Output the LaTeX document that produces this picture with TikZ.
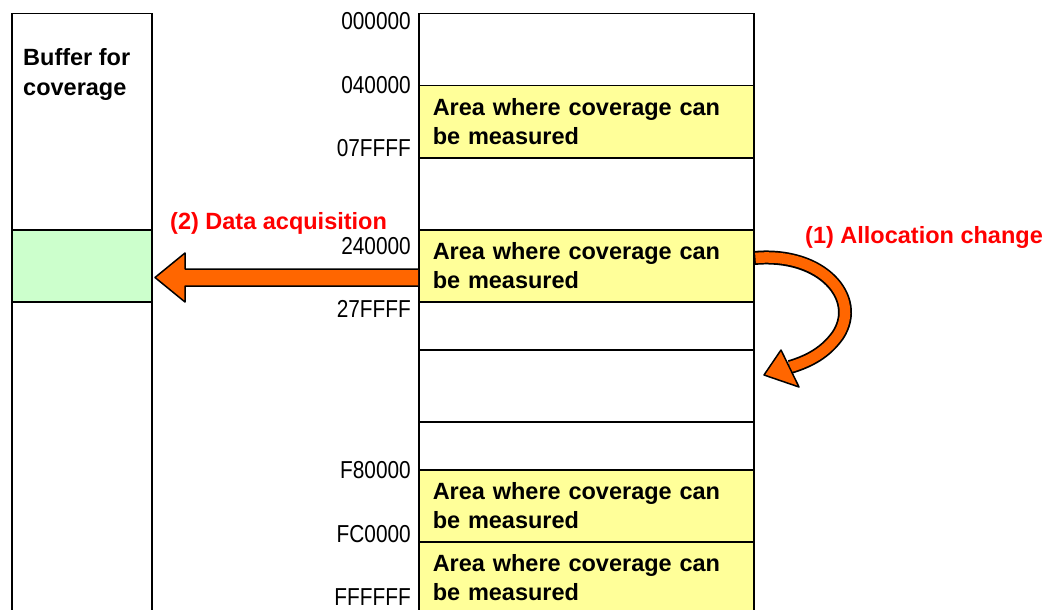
\documentclass[tikz,border=0pt]{standalone}
\usepackage{fontspec}
\setmainfont{Liberation Sans}
\newfontfamily\hexfont[FakeStretch=0.85]{Liberation Sans}
\usetikzlibrary{calc}
\definecolor{areaY}{HTML}{FFFF99}
\definecolor{bufG}{HTML}{CCFFCC}
\definecolor{arrowO}{HTML}{FF6600}
\definecolor{labR}{HTML}{FF0000}
\tikzset{
  cell/.style={draw=black, line width=1.5pt, rectangle, minimum width=335pt, inner sep=0pt, anchor=north west},
  area/.style={cell, fill=areaY, text width=307pt, inner xsep=14pt, inner ysep=0pt, align=left,
               font=\fontsize{23.5}{29}\selectfont\bfseries},
  bufcell/.style={draw=black, line width=1.5pt, rectangle, minimum width=140pt, inner sep=0pt, anchor=north west},
  hexlbl/.style={anchor=east, inner sep=0pt, font=\hexfont\fontsize{24.5}{25}\selectfont},
  redlbl/.style={anchor=base west, inner sep=0pt, text=labR, font=\fontsize{23.5}{28}\selectfont\bfseries},
  blacklbl/.style={inner sep=0pt, font=\fontsize{23.5}{30}\selectfont\bfseries},
  orangeshape/.style={fill=arrowO, draw=black, line width=1.5pt, line join=round}
}
\begin{document}
\begin{tikzpicture}[x=1pt,y=-1pt]
\useasboundingbox (0,0) rectangle (1045,610);
\clip (0,0) rectangle (1045,610);
% buffer column
\node[bufcell, minimum height=216pt] (b0) at (11,13) {};
\node[bufcell, fill=bufG, minimum height=72pt] (bg) at (11,229) {};
\node[bufcell, minimum height=330pt] (b1) at (11,301) {};
\node[blacklbl, anchor=north west, align=left] (btxt) at (23,48) {Buffer for\\coverage};
% memory column
\node[cell, minimum height=72pt] (m0) at (418,13) {};
\node[area, minimum height=72pt] (a1) at (418,85) {Area where coverage can\\be measured};
\node[cell, minimum height=72pt] (m1) at (418,157) {};
\node[area, minimum height=72pt] (a2) at (418,229) {Area where coverage can\\be measured};
\node[cell, minimum height=48pt] (m2) at (418,301) {};
\node[cell, minimum height=72pt] (m3) at (418,349) {};
\node[cell, minimum height=48pt] (m4) at (418,421) {};
\node[area, minimum height=72pt] (a3) at (418,469) {Area where coverage can\\be measured};
\node[area, minimum height=72pt] (a4) at (418,541) {Area where coverage can\\be measured};
% address labels
\node[hexlbl] (h0) at (411,21.5) {000000};
\node[hexlbl] (h1) at (411,85) {040000};
\node[hexlbl] (h2) at (411,148.5) {07FFFF};
\node[hexlbl] (h3) at (411,246.5) {240000};
\node[hexlbl] (h4) at (411,308.5) {27FFFF};
\node[hexlbl] (h5) at (411,470) {F80000};
\node[hexlbl] (h6) at (411,534) {FC0000};
\node[hexlbl] (h7) at (411,597.5) {FFFFFF};
% red labels
\node[redlbl] (l2) at (170,229) {(2) Data acquisition};
\node[redlbl] (l1) at (805,243) {(1) Allocation change};
% straight arrow (2)
\draw[orangeshape] (a2.west |- 0,269) -- (185,269) -- (185,253) -- (155,277.5)
   -- (185,302) -- (185,286) -- (a2.west |- 0,286);
% curved arrow (1)
\coordinate (cs) at (a2.east |- 0,258);
\coordinate (ce) at (790,367);
\draw[black, line width=14pt] (cs) .. controls (822,252) and (862,298) .. (838,335)
   .. controls (826,352) and (810,361) .. (ce);
\draw[arrowO, line width=10.5pt] ([xshift=1pt]cs) .. controls (822,252) and (862,298) .. (838,335)
   .. controls (826,352) and (810,361) .. (ce);
\draw[orangeshape] (781,350) -- (764,375) -- (799,387) -- cycle;
\end{tikzpicture}
\end{document}
